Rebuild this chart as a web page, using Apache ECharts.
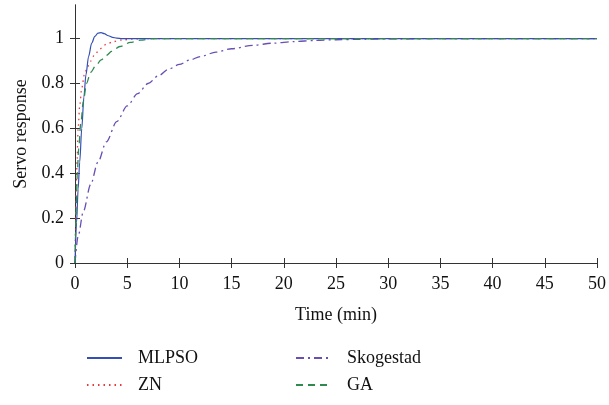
<!DOCTYPE html>
<html><head><meta charset="utf-8">
<script src="https://cdn.jsdelivr.net/npm/echarts@6/dist/echarts.min.js"></script>
<style>html,body{margin:0;padding:0;background:#fff}#c{width:609px;height:405px}</style>
</head><body><div id="c"></div>
<script>
const xTicks = [0,5,10,15,20,25,30,35,40,45,50];
const yTicks = [0,0.2,0.4,0.6,0.8,1];
const seriesNames = ['MLPSO','ZN','Skogestad','GA'];

const mlpsoT = [0,0.15,0.3,0.45,0.65,0.85,1.05,1.3,1.6,1.9,2.2,2.5,2.8,3.2,3.6,4.0,4.5,5,50];
const mlpsoY = [0,0.18,0.33,0.45,0.6,0.74,0.84,0.92,0.98,1.01,1.025,1.027,1.022,1.013,1.006,1.002,1.0,1.0,1.0];

const znT = [0,0.05,0.12,0.2,0.3,0.45,0.65,0.9,1.2,1.5,1.9,2.4,3,3.7,4.5,5.5,6.5,50];
const znY = [0,0.15,0.32,0.46,0.6,0.7,0.78,0.84,0.875,0.9,0.93,0.955,0.975,0.987,0.994,0.998,1.0,1.0];

const skoT = [0,0.3,0.8,1.5,2.2,3,4,5,6,7,8,9,10,11,12,13.5,15,17,19,21,23,25,27,30,35,40,50];
const skoY = [0,0.12,0.23,0.35,0.45,0.54,0.63,0.70,0.755,0.80,0.835,0.865,0.885,0.905,0.92,0.94,0.955,0.97,0.98,0.987,0.992,0.995,0.997,0.999,1.0,1.0,1.0];

const gaT = [0,0.05,0.12,0.22,0.35,0.55,0.8,1.1,1.5,2.0,2.5,3.0,3.5,4.3,5.3,6.3,7.5,50];
const gaY = [0,0.12,0.26,0.4,0.51,0.62,0.72,0.8,0.85,0.88,0.905,0.925,0.943,0.965,0.983,0.993,1.0,1.0];

const pairs = (t, y) => t.map((v, i) => [v, y[i]]);
const font = 'Liberation Serif';
const axisCol = '#333';
const fs = 18;

const legendCommon = {orient: 'vertical', top: 344, itemGap: 9, itemWidth: 35, itemHeight: 22,
  itemStyle: {opacity: 0},
  textStyle: {fontFamily: font, fontSize: fs, color: '#111', padding: [0,0,0,11]}};

const chart = echarts.init(document.getElementById('c'), null, {renderer: 'canvas'});
chart.setOption({
  animation: false,
  textStyle: {fontFamily: font},
  grid: {left: 75, right: 10, top: 5, bottom: 142, containLabel: false},
  legend: [
    Object.assign({data: ['MLPSO','ZN'], left: 81}, legendCommon),
    Object.assign({data: ['Skogestad','GA'], left: 290}, legendCommon)
  ],
  xAxis: [
    {type: 'value', min: xTicks[0], max: xTicks[xTicks.length-1], interval: 5,
     name: 'Time (min)', nameLocation: 'middle', nameGap: 43,
     nameTextStyle: {fontFamily: font, fontSize: fs, color: '#111'},
     axisLine: {lineStyle: {color: axisCol, width: 1}},
     axisTick: {inside: true, length: 5, lineStyle: {color: axisCol}},
     axisLabel: {fontFamily: font, fontSize: fs, color: '#111', margin: 12},
     splitLine: {show: false}},
    {type: 'value', position: 'top', min: xTicks[0], max: xTicks[xTicks.length-1], interval: 5,
     axisLine: {show: true, lineStyle: {color: axisCol, width: 1}},
     axisTick: {show: true, inside: true, length: 5, lineStyle: {color: axisCol}},
     axisLabel: {show: false}, splitLine: {show: false}}
  ],
  yAxis: [
    {type: 'value', min: 0, max: 1.15, interval: 0.2,
     name: 'Servo response', nameLocation: 'middle', nameGap: 41, nameRotate: 90,
     nameTextStyle: {fontFamily: font, fontSize: fs, color: '#111'},
     axisLine: {show: true, lineStyle: {color: axisCol, width: 1}},
     axisTick: {show: true, inside: true, length: 5, lineStyle: {color: axisCol},
       customValues: yTicks},
     axisLabel: {fontFamily: font, fontSize: fs, color: '#111', margin: 11,
       customValues: yTicks,
       formatter: v => (v > 1.01 ? '' : String(Math.round(v*10)/10))},
     splitLine: {show: false}},
    {type: 'value', position: 'right', min: 0, max: 1.15, interval: 0.2,
     axisLine: {show: true, lineStyle: {color: axisCol, width: 1}},
     axisTick: {show: true, inside: true, length: 5, lineStyle: {color: axisCol}, customValues: yTicks},
     axisLabel: {show: false}, splitLine: {show: false}}
  ],
  series: [
    {name: seriesNames[0], type: 'line', data: pairs(mlpsoT, mlpsoY), smooth: 0.3, smoothMonotone: 'x',
     symbol: 'none', lineStyle: {color: '#3550b5', width: 1.2, type: 'solid'}, itemStyle: {color: '#3550b5'}, z: 5},
    {name: seriesNames[1], type: 'line', data: pairs(znT, znY), smooth: 0.3, smoothMonotone: 'x',
     symbol: 'none', lineStyle: {color: '#e8393c', width: 1.3, type: [1.5,4]}, itemStyle: {color: '#e8393c'}, z: 4},
    {name: seriesNames[2], type: 'line', data: pairs(skoT, skoY), smooth: 0.3, smoothMonotone: 'x',
     symbol: 'none', lineStyle: {color: '#6a4fb3', width: 1.3, type: [8,4,2,4]}, itemStyle: {color: '#6a4fb3'}, z: 3},
    {name: seriesNames[3], type: 'line', data: pairs(gaT, gaY), smooth: 0.3, smoothMonotone: 'x',
     symbol: 'none', lineStyle: {color: '#2e8b50', width: 1.3, type: [7,5]}, itemStyle: {color: '#2e8b50'}, z: 6}
  ]
});
</script></body></html>
